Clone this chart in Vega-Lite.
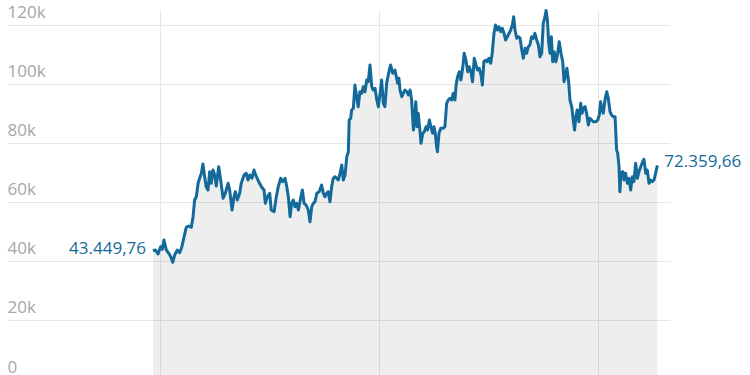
{
  "$schema": "https://vega.github.io/schema/vega-lite/v6.json",
  "width": 663,
  "height": 369,
  "autosize": "none",
  "padding": {"left": 7, "top": 10, "right": 80, "bottom": 0},
  "background": "white",
  "config": {
    "view": {"stroke": null},
    "font": "Open Sans",
    "locale": {"number": {"decimal": ",", "thousands": ".", "grouping": [3], "currency": ["", ""]}}
  },
  "data": {"values": [
    {"t":2023.968,"v":43449.76},{"t":2023.979,"v":43700},{"t":2023.991,"v":42340},{"t":2024.003,"v":44820},{"t":2024.011,"v":43940},{"t":2024.018,"v":47090},{"t":2024.029,"v":43700},{"t":2024.040,"v":42580},{"t":2024.049,"v":41430},{"t":2024.058,"v":39530},{"t":2024.067,"v":42010},{"t":2024.079,"v":43700},{"t":2024.090,"v":42780},{"t":2024.100,"v":44820},{"t":2024.110,"v":48200},{"t":2024.120,"v":51390},{"t":2024.131,"v":51830},{"t":2024.143,"v":51390},{"t":2024.151,"v":54980},{"t":2024.158,"v":60640},{"t":2024.166,"v":61750},{"t":2024.174,"v":66290},{"t":2024.181,"v":67990},{"t":2024.189,"v":69680},{"t":2024.196,"v":72830},{"t":2024.204,"v":68530},{"t":2024.211,"v":65140},{"t":2024.219,"v":64020},{"t":2024.227,"v":70220},{"t":2024.234,"v":66290},{"t":2024.242,"v":70800},{"t":2024.250,"v":69110},{"t":2024.257,"v":65380},{"t":2024.268,"v":71920},{"t":2024.277,"v":67410},{"t":2024.288,"v":61210},{"t":2024.298,"v":62910},{"t":2024.311,"v":66290},{"t":2024.318,"v":64020},{"t":2024.329,"v":57250},{"t":2024.338,"v":61750},{"t":2024.344,"v":63450},{"t":2024.353,"v":60640},{"t":2024.364,"v":62910},{"t":2024.371,"v":66290},{"t":2024.384,"v":69110},{"t":2024.394,"v":69680},{"t":2024.402,"v":67410},{"t":2024.410,"v":69110},{"t":2024.420,"v":67990},{"t":2024.429,"v":70800},{"t":2024.440,"v":68530},{"t":2024.451,"v":66840},{"t":2024.463,"v":65140},{"t":2024.475,"v":64020},{"t":2024.481,"v":59520},{"t":2024.490,"v":61750},{"t":2024.501,"v":62910},{"t":2024.508,"v":57250},{"t":2024.521,"v":56670},{"t":2024.530,"v":61210},{"t":2024.540,"v":65140},{"t":2024.551,"v":67990},{"t":2024.560,"v":66840},{"t":2024.571,"v":67990},{"t":2024.579,"v":65140},{"t":2024.586,"v":61750},{"t":2024.594,"v":54980},{"t":2024.601,"v":59520},{"t":2024.609,"v":60640},{"t":2024.616,"v":58370},{"t":2024.624,"v":59520},{"t":2024.632,"v":57250},{"t":2024.642,"v":61210},{"t":2024.650,"v":64020},{"t":2024.658,"v":59520},{"t":2024.667,"v":58940},{"t":2024.677,"v":57250},{"t":2024.685,"v":53290},{"t":2024.693,"v":58370},{"t":2024.700,"v":59520},{"t":2024.708,"v":60060},{"t":2024.716,"v":62910},{"t":2024.727,"v":63450},{"t":2024.738,"v":65720},{"t":2024.746,"v":62910},{"t":2024.753,"v":61750},{"t":2024.761,"v":62910},{"t":2024.768,"v":63450},{"t":2024.776,"v":60060},{"t":2024.784,"v":65140},{"t":2024.791,"v":67990},{"t":2024.799,"v":68530},{"t":2024.807,"v":67990},{"t":2024.814,"v":67410},{"t":2024.822,"v":69680},{"t":2024.830,"v":72490},{"t":2024.837,"v":67410},{"t":2024.845,"v":69110},{"t":2024.853,"v":75300},{"t":2024.860,"v":77000},{"t":2024.864,"v":87740},{"t":2024.871,"v":88310},{"t":2024.875,"v":91120},{"t":2024.883,"v":91700},{"t":2024.890,"v":99590},{"t":2024.898,"v":95630},{"t":2024.905,"v":92240},{"t":2024.913,"v":97320},{"t":2024.921,"v":96780},{"t":2024.928,"v":99020},{"t":2024.936,"v":97320},{"t":2024.944,"v":101290},{"t":2024.951,"v":100710},{"t":2024.959,"v":106370},{"t":2024.967,"v":99020},{"t":2024.974,"v":97900},{"t":2024.982,"v":98480},{"t":2024.990,"v":94510},{"t":2024.997,"v":92240},{"t":2025.005,"v":96780},{"t":2025.012,"v":101290},{"t":2025.020,"v":93390},{"t":2025.027,"v":92240},{"t":2025.035,"v":100170},{"t":2025.047,"v":104670},{"t":2025.053,"v":106370},{"t":2025.063,"v":103560},{"t":2025.073,"v":104670},{"t":2025.085,"v":100170},{"t":2025.091,"v":101860},{"t":2025.096,"v":97900},{"t":2025.104,"v":95630},{"t":2025.111,"v":96780},{"t":2025.119,"v":97900},{"t":2025.127,"v":97320},{"t":2025.134,"v":96210},{"t":2025.142,"v":97900},{"t":2025.149,"v":94510},{"t":2025.157,"v":84350},{"t":2025.161,"v":86040},{"t":2025.168,"v":93940},{"t":2025.174,"v":85470},{"t":2025.179,"v":90010},{"t":2025.186,"v":84920},{"t":2025.192,"v":79840},{"t":2025.200,"v":83230},{"t":2025.207,"v":83770},{"t":2025.215,"v":85470},{"t":2025.222,"v":84350},{"t":2025.230,"v":87740},{"t":2025.237,"v":85470},{"t":2025.245,"v":83230},{"t":2025.251,"v":85470},{"t":2025.257,"v":83230},{"t":2025.263,"v":78690},{"t":2025.267,"v":77000},{"t":2025.274,"v":83230},{"t":2025.282,"v":84920},{"t":2025.293,"v":84920},{"t":2025.301,"v":85470},{"t":2025.309,"v":93390},{"t":2025.316,"v":94510},{"t":2025.324,"v":95090},{"t":2025.332,"v":94510},{"t":2025.339,"v":96780},{"t":2025.347,"v":94510},{"t":2025.352,"v":99590},{"t":2025.359,"v":102400},{"t":2025.367,"v":104100},{"t":2025.374,"v":101290},{"t":2025.382,"v":105250},{"t":2025.389,"v":110330},{"t":2025.397,"v":108060},{"t":2025.405,"v":104100},{"t":2025.412,"v":105790},{"t":2025.420,"v":104100},{"t":2025.427,"v":100710},{"t":2025.435,"v":108640},{"t":2025.443,"v":106370},{"t":2025.450,"v":104670},{"t":2025.458,"v":105250},{"t":2025.466,"v":102980},{"t":2025.472,"v":99590},{"t":2025.479,"v":107490},{"t":2025.487,"v":108060},{"t":2025.494,"v":107490},{"t":2025.502,"v":108640},{"t":2025.510,"v":106940},{"t":2025.517,"v":110330},{"t":2025.525,"v":117110},{"t":2025.532,"v":119920},{"t":2025.540,"v":118220},{"t":2025.548,"v":119340},{"t":2025.556,"v":117650},{"t":2025.563,"v":118800},{"t":2025.571,"v":117110},{"t":2025.578,"v":114840},{"t":2025.586,"v":115950},{"t":2025.594,"v":117110},{"t":2025.601,"v":118220},{"t":2025.609,"v":119920},{"t":2025.615,"v":122730},{"t":2025.621,"v":118220},{"t":2025.629,"v":115410},{"t":2025.636,"v":115950},{"t":2025.644,"v":115510},{"t":2025.652,"v":111450},{"t":2025.659,"v":108640},{"t":2025.667,"v":112030},{"t":2025.674,"v":110330},{"t":2025.682,"v":112570},{"t":2025.689,"v":113140},{"t":2025.697,"v":115950},{"t":2025.705,"v":115410},{"t":2025.712,"v":117110},{"t":2025.720,"v":114840},{"t":2025.728,"v":113140},{"t":2025.735,"v":109180},{"t":2025.743,"v":110330},{"t":2025.750,"v":120490},{"t":2025.758,"v":122730},{"t":2025.763,"v":124800},{"t":2025.769,"v":121610},{"t":2025.775,"v":113720},{"t":2025.781,"v":110330},{"t":2025.787,"v":115950},{"t":2025.793,"v":107490},{"t":2025.800,"v":110870},{"t":2025.808,"v":107490},{"t":2025.816,"v":110330},{"t":2025.823,"v":114260},{"t":2025.831,"v":110330},{"t":2025.839,"v":107490},{"t":2025.845,"v":100710},{"t":2025.851,"v":102400},{"t":2025.858,"v":105250},{"t":2025.866,"v":100710},{"t":2025.872,"v":94510},{"t":2025.880,"v":92240},{"t":2025.887,"v":87740},{"t":2025.893,"v":84350},{"t":2025.900,"v":89430},{"t":2025.905,"v":91120},{"t":2025.913,"v":87160},{"t":2025.921,"v":93390},{"t":2025.927,"v":90010},{"t":2025.933,"v":91700},{"t":2025.941,"v":92240},{"t":2025.948,"v":90010},{"t":2025.956,"v":86040},{"t":2025.963,"v":88310},{"t":2025.971,"v":87740},{"t":2025.979,"v":87160},{"t":2025.991,"v":87160},{"t":2025.999,"v":87740},{"t":2026.006,"v":89430},{"t":2026.012,"v":93940},{"t":2026.018,"v":91120},{"t":2026.024,"v":90010},{"t":2026.032,"v":94510},{"t":2026.040,"v":97320},{"t":2026.047,"v":95090},{"t":2026.055,"v":90550},{"t":2026.062,"v":89430},{"t":2026.070,"v":88850},{"t":2026.078,"v":88850},{"t":2026.085,"v":77570},{"t":2026.090,"v":76460},{"t":2026.096,"v":71920},{"t":2026.100,"v":63450},{"t":2026.105,"v":69680},{"t":2026.113,"v":70220},{"t":2026.119,"v":67410},{"t":2026.126,"v":69680},{"t":2026.134,"v":66290},{"t":2026.142,"v":67990},{"t":2026.149,"v":64020},{"t":2026.157,"v":68530},{"t":2026.164,"v":66840},{"t":2026.172,"v":73070},{"t":2026.180,"v":67990},{"t":2026.187,"v":70220},{"t":2026.195,"v":71920},{"t":2026.204,"v":73610},{"t":2026.210,"v":74420},{"t":2026.218,"v":69680},{"t":2026.225,"v":70800},{"t":2026.233,"v":66290},{"t":2026.240,"v":67410},{"t":2026.248,"v":66840},{"t":2026.256,"v":67410},{"t":2026.263,"v":69680},{"t":2026.271,"v":72359.66}
  ]},
  "encoding": {
    "x": {
      "field": "t", "type": "quantitative",
      "scale": {"domain": [2023.3014, 2026.3288], "nice": false, "zero": false},
      "axis": {"values": [2024, 2025, 2026], "labels": false, "ticks": false, "domain": false, "title": null, "grid": true, "gridColor": "#e6e6e6", "gridWidth": 1}
    },
    "y": {
      "field": "v", "type": "quantitative",
      "scale": {"domain": [0, 125000], "nice": false},
      "axis": {"values": [0, 20000, 40000, 60000, 80000, 100000, 120000], "labelExpr": "datum.value == 0 ? '0' : (datum.value / 1000) + 'k'", "title": null, "ticks": false, "domain": false, "labelAlign": "left", "labelPadding": 0, "labelBaseline": "alphabetic", "labelOffset": -7, "labelFontSize": 17, "labelColor": "#a6a6a6", "labelFont": "Open Sans", "grid": true, "gridColor": "#e6e6e6", "gridWidth": 1}
    }
  },
  "layer": [
    {"mark": {"type": "area", "color": "#000000", "fillOpacity": 0.065}},
    {"mark": {"type": "line", "color": "#136a9a", "strokeWidth": 3, "strokeJoin": "round"}},
    {
      "transform": [{"filter": "datum.t == 2023.968"}],
      "mark": {"type": "text", "align": "right", "baseline": "middle", "dx": -7, "dy": -2, "fontSize": 17, "font": "Open Sans", "color": "#136a9a"},
      "encoding": {"text": {"field": "v", "type": "quantitative", "format": ",.2f"}}
    },
    {
      "transform": [{"filter": "datum.t == 2026.271"}],
      "mark": {"type": "text", "align": "left", "baseline": "middle", "dx": 7, "dy": -3, "fontSize": 17, "font": "Open Sans", "color": "#136a9a"},
      "encoding": {"text": {"field": "v", "type": "quantitative", "format": ",.2f"}}
    }
  ]
}
